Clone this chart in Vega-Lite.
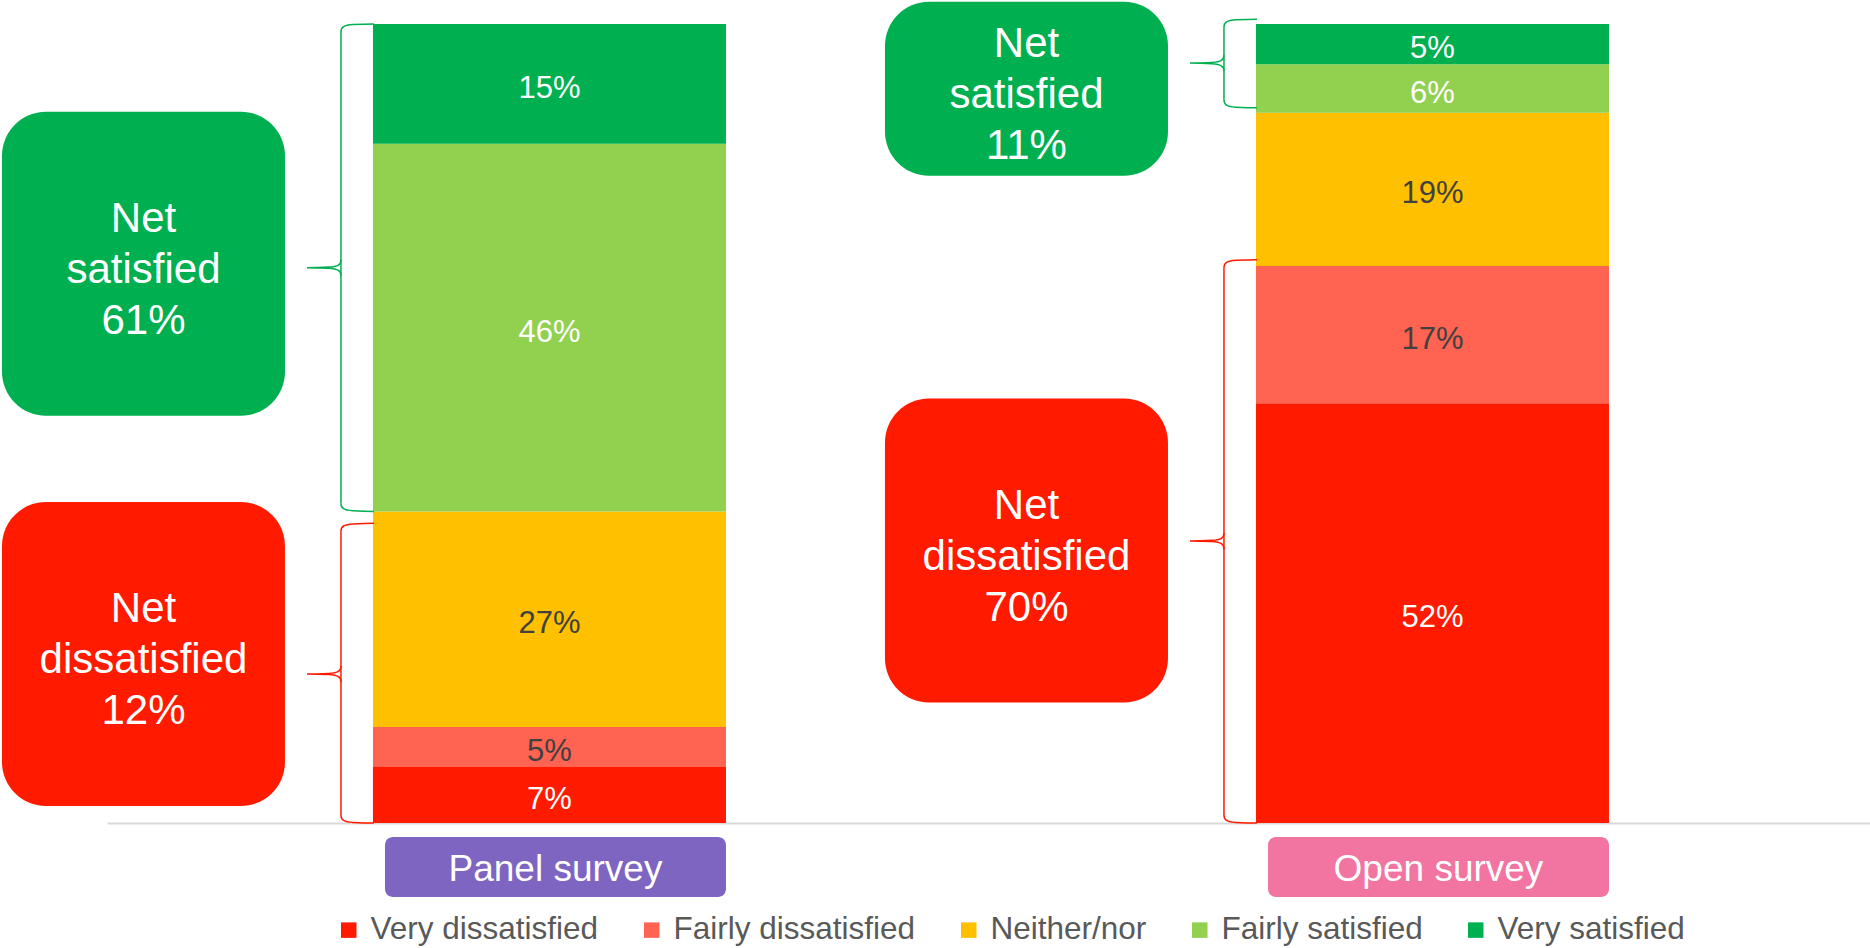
{
  "$schema": "https://vega.github.io/schema/vega-lite/v6.json",
  "width": 1763,
  "height": 823,
  "autosize": {"type": "none"},
  "padding": {"left": 107, "top": 0, "right": 0, "bottom": 125},
  "background": "white",
  "config": {
    "view": {"stroke": null},
    "font": "Liberation Sans",
    "axisY": {"disable": true},
    "axisX": {"labels": false, "ticks": false, "grid": false, "domainColor": "#D9D9D9", "domainWidth": 2, "titleOpacity": 0}
  },
  "datasets": {
    "responses": [
      {"survey": "Panel survey", "response": "Very dissatisfied", "share": 0.07},
      {"survey": "Panel survey", "response": "Fairly dissatisfied", "share": 0.05},
      {"survey": "Panel survey", "response": "Neither/nor", "share": 0.27},
      {"survey": "Panel survey", "response": "Fairly satisfied", "share": 0.46},
      {"survey": "Panel survey", "response": "Very satisfied", "share": 0.15},
      {"survey": "Open survey", "response": "Very dissatisfied", "share": 0.52},
      {"survey": "Open survey", "response": "Fairly dissatisfied", "share": 0.17},
      {"survey": "Open survey", "response": "Neither/nor", "share": 0.19},
      {"survey": "Open survey", "response": "Fairly satisfied", "share": 0.06},
      {"survey": "Open survey", "response": "Very satisfied", "share": 0.05}
    ],
    "nets": [
      {"survey": "Panel survey", "net": "Net satisfied", "share": 0.61, "from": 0.39, "to": 1.0, "mid": 0.695, "callout": 0.70},
      {"survey": "Panel survey", "net": "Net dissatisfied", "share": 0.12, "from": 0.0, "to": 0.375, "mid": 0.1865, "callout": 0.2115},
      {"survey": "Open survey", "net": "Net satisfied", "share": 0.11, "from": 0.895, "to": 1.006, "mid": 0.951, "callout": 0.919},
      {"survey": "Open survey", "net": "Net dissatisfied", "share": 0.70, "from": 0.0, "to": 0.705, "mid": 0.353, "callout": 0.341}
    ],
    "surveys": [
      {"survey": "Panel survey"},
      {"survey": "Open survey"}
    ]
  },
  "layer": [
    {
      "data": {"name": "responses"},
      "transform": [{"calculate": "indexof(['Very dissatisfied', 'Fairly dissatisfied', 'Neither/nor', 'Fairly satisfied', 'Very satisfied'], datum.response)", "as": "rank"}],
      "mark": {"type": "bar"},
      "encoding": {
        "x": {"field": "survey", "type": "nominal", "title": null,
              "scale": {"domain": ["Panel survey", "Open survey"], "paddingInner": 0.6002, "paddingOuter": 0.2984, "align": 0.5047}},
        "y": {"field": "share", "type": "quantitative", "stack": "normalize", "title": null,
              "scale": {"domain": [0, 1.03], "nice": false, "zero": true}},
        "order": {"field": "rank", "type": "quantitative", "sort": "ascending"},
        "color": {"field": "response", "type": "nominal",
                  "scale": {"domain": ["Very dissatisfied", "Fairly dissatisfied", "Neither/nor", "Fairly satisfied", "Very satisfied"],
                            "range": ["#FF1A00", "#FF6452", "#FFC000", "#92D050", "#00B050"]},
                  "legend": {"orient": "none", "legendX": 226, "legendY": 914, "direction": "horizontal", "columns": 5,
                             "title": null, "symbolType": "square", "symbolSize": 240, "symbolStrokeWidth": 0,
                             "labelFontSize": 31.5, "labelFont": "Liberation Sans", "labelColor": "#595959", "labelLimit": 400,
                             "labelOffset": 6, "columnPadding": 37, "padding": 0, "gridAlign": "each"}}
      }
    },
    {
      "data": {"name": "responses"},
      "transform": [{"calculate": "indexof(['Very dissatisfied', 'Fairly dissatisfied', 'Neither/nor', 'Fairly satisfied', 'Very satisfied'], datum.response)", "as": "rank"}],
      "mark": {"type": "text", "fontSize": 31, "baseline": "middle", "align": "center", "dy": 5},
      "encoding": {
        "x": {"field": "survey", "type": "nominal", "title": null},
        "y": {"field": "share", "type": "quantitative", "stack": "normalize", "bandPosition": 0.5, "title": null},
        "order": {"field": "rank", "type": "quantitative", "sort": "ascending"},
        "text": {"field": "share", "type": "quantitative", "format": ".0%"},
        "fill": {"field": "response", "type": "nominal", "legend": null,
                 "scale": {"domain": ["Very dissatisfied", "Fairly dissatisfied", "Neither/nor", "Fairly satisfied", "Very satisfied"],
                           "range": ["#FFFFFF", "#404040", "#404040", "#FFFFFF", "#FFFFFF"]}}
      }
    },
    {
      "data": {"name": "nets"},
      "transform": [{"filter": "!(datum.survey == 'Open survey' && datum.net == 'Net satisfied')"}],
      "mark": {"type": "bar", "width": 283, "cornerRadius": 44, "xOffset": -406, "yOffset": -152, "y2Offset": 152},
      "encoding": {
        "x": {"field": "survey", "type": "nominal", "title": null},
        "y": {"field": "callout", "type": "quantitative", "title": null},
        "y2": {"field": "callout"},
        "fill": {"field": "net", "type": "nominal", "legend": null,
                 "scale": {"domain": ["Net satisfied", "Net dissatisfied"], "range": ["#00B050", "#FF1A00"]}}
      }
    },
    {
      "data": {"name": "nets"},
      "transform": [{"filter": "datum.survey == 'Open survey' && datum.net == 'Net satisfied'"}],
      "mark": {"type": "bar", "width": 283, "cornerRadius": 44, "xOffset": -406, "yOffset": -87, "y2Offset": 87},
      "encoding": {
        "x": {"field": "survey", "type": "nominal", "title": null},
        "y": {"field": "callout", "type": "quantitative", "title": null},
        "y2": {"field": "callout"},
        "fill": {"field": "net", "type": "nominal", "legend": null,
                 "scale": {"domain": ["Net satisfied", "Net dissatisfied"], "range": ["#00B050", "#FF1A00"]}}
      }
    },
    {
      "data": {"name": "nets"},
      "mark": {"type": "text", "fontSize": 42, "lineHeight": 51, "lineBreak": " ", "fill": "#FFFFFF", "baseline": "middle", "align": "center", "dx": -406, "dy": -45},
      "encoding": {
        "x": {"field": "survey", "type": "nominal", "title": null},
        "y": {"field": "callout", "type": "quantitative", "title": null},
        "text": {"field": "net", "type": "nominal"}
      }
    },
    {
      "data": {"name": "nets"},
      "mark": {"type": "text", "fontSize": 42, "fill": "#FFFFFF", "baseline": "middle", "align": "center", "dx": -406, "dy": 57},
      "encoding": {
        "x": {"field": "survey", "type": "nominal", "title": null},
        "y": {"field": "callout", "type": "quantitative", "title": null},
        "text": {"field": "share", "type": "quantitative", "format": ".0%"}
      }
    },
    {
      "data": {"name": "nets"},
      "mark": {"type": "rule", "strokeWidth": 1.5, "xOffset": -32, "yOffset": 8, "y2Offset": -8},
      "encoding": {
        "x": {"field": "survey", "type": "nominal", "bandPosition": 0, "title": null},
        "y": {"field": "to", "type": "quantitative", "title": null},
        "y2": {"field": "from"},
        "stroke": {"field": "net", "type": "nominal", "legend": null,
                   "scale": {"domain": ["Net satisfied", "Net dissatisfied"], "range": ["#00B050", "#FF1A00"]}}
      }
    },
    {
      "data": {"name": "nets"},
      "mark": {"type": "point", "shape": "M0,8C0,3 3,1.2 12,0.6C20,0.2 27,0 33,0", "size": 4, "filled": false, "opacity": 1, "strokeWidth": 1.5, "xOffset": -32},
      "encoding": {
        "x": {"field": "survey", "type": "nominal", "bandPosition": 0, "title": null},
        "y": {"field": "to", "type": "quantitative", "title": null},
        "stroke": {"field": "net", "type": "nominal", "legend": null,
                   "scale": {"domain": ["Net satisfied", "Net dissatisfied"], "range": ["#00B050", "#FF1A00"]}}
      }
    },
    {
      "data": {"name": "nets"},
      "mark": {"type": "point", "shape": "M0,-8C0,-3 3,-1.2 12,-0.6C20,-0.2 27,0 33,0", "size": 4, "filled": false, "opacity": 1, "strokeWidth": 1.5, "xOffset": -32},
      "encoding": {
        "x": {"field": "survey", "type": "nominal", "bandPosition": 0, "title": null},
        "y": {"field": "from", "type": "quantitative", "title": null},
        "stroke": {"field": "net", "type": "nominal", "legend": null,
                   "scale": {"domain": ["Net satisfied", "Net dissatisfied"], "range": ["#00B050", "#FF1A00"]}}
      }
    },
    {
      "data": {"name": "nets"},
      "mark": {"type": "point", "shape": "M0,-8C0,-3 -3,-1.2 -12,-0.6C-20,-0.2 -27,0 -34,0C-27,0 -20,0.2 -12,0.6C-3,1.2 0,3 0,8", "size": 4, "filled": false, "opacity": 1, "strokeWidth": 1.5, "xOffset": -32},
      "encoding": {
        "x": {"field": "survey", "type": "nominal", "bandPosition": 0, "title": null},
        "y": {"field": "mid", "type": "quantitative", "title": null},
        "stroke": {"field": "net", "type": "nominal", "legend": null,
                   "scale": {"domain": ["Net satisfied", "Net dissatisfied"], "range": ["#00B050", "#FF1A00"]}}
      }
    },
    {
      "data": {"name": "surveys"},
      "mark": {"type": "bar", "width": 341, "cornerRadius": 8, "xOffset": 6, "yOffset": 14, "y2Offset": 74},
      "encoding": {
        "x": {"field": "survey", "type": "nominal", "title": null},
        "y": {"datum": 0, "type": "quantitative"},
        "y2": {"datum": 0},
        "fill": {"field": "survey", "type": "nominal", "legend": null,
                 "scale": {"domain": ["Panel survey", "Open survey"], "range": ["#7E65C1", "#F274A0"]}}
      }
    },
    {
      "data": {"name": "surveys"},
      "mark": {"type": "text", "fontSize": 37, "fill": "#FFFFFF", "baseline": "middle", "align": "center", "dx": 6, "dy": 47},
      "encoding": {
        "x": {"field": "survey", "type": "nominal", "title": null},
        "y": {"datum": 0, "type": "quantitative"},
        "text": {"field": "survey", "type": "nominal"}
      }
    }
  ],
  "resolve": {"scale": {"fill": "independent", "stroke": "independent"}}
}
